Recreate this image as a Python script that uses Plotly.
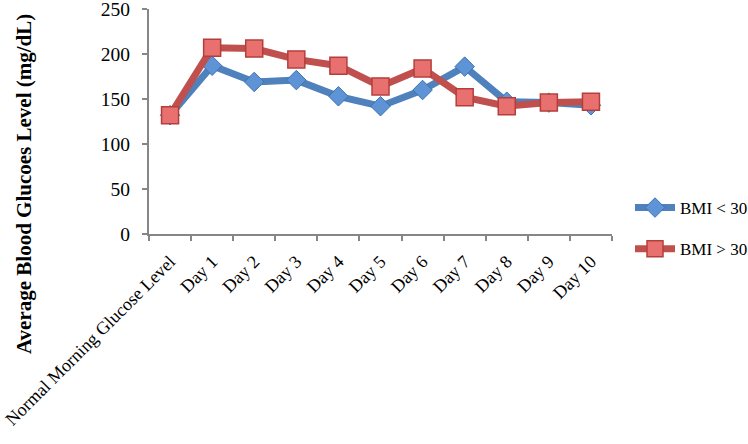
import plotly.graph_objects as go

categories = ["Normal Morning Glucose Level", "Day 1", "Day 2", "Day 3", "Day 4", "Day 5",
              "Day 6", "Day 7", "Day 8", "Day 9", "Day 10"]
bmi_under_30 = [132, 187, 169, 171, 153, 142, 160, 186, 147, 146, 143]
bmi_over_30 = [132, 207, 206, 194, 187, 164, 184, 152, 142, 146, 147]
y_ticks = [0, 50, 100, 150, 200, 250]
y_title = "Average Blood Glucoes Level (mg/dL)"

FONT = "Liberation Serif"
W, H = 748, 444
L, R, T, B = 149, 136, 9, 210
PW, PH = W - L - R, H - T - B

fig = go.Figure()
fig.add_trace(go.Scatter(
    x=categories, y=bmi_under_30, name="BMI < 30", mode="lines+markers",
    line=dict(color="#4F81BD", width=7),
    marker=dict(symbol="diamond", size=15, color="#5E93D6", line=dict(color="#3F72B0", width=1)),
    legendgroup="a",
))
fig.add_trace(go.Scatter(
    x=categories, y=bmi_over_30, name="BMI > 30", mode="lines+markers",
    line=dict(color="#C0504D", width=7),
    marker=dict(symbol="square", size=17, color="#E8716F", line=dict(color="#B33F3C", width=1.5)),
    legendgroup="b",
))

axis_col = "#868686"
fig.update_layout(
    width=W, height=H,
    margin=dict(l=L, r=R, t=T, b=B, autoexpand=False),
    paper_bgcolor="white", plot_bgcolor="white",
    font=dict(family=FONT, size=17, color="black"),
    showlegend=True,
    legend=dict(x=(630 - L) / PW, y=(234 - 190) / PH, xanchor="left", yanchor="top",
                font=dict(family=FONT, size=17), tracegroupgap=16, traceorder="grouped",
                bgcolor="rgba(0,0,0,0)", itemwidth=40),
    xaxis=dict(
        type="category", range=[-0.5, 10.5], tickson="boundaries",
        showline=True, linecolor=axis_col, linewidth=2,
        ticks="outside", ticklen=5, tickcolor=axis_col, tickwidth=2,
        tickangle=-45, tickfont=dict(family=FONT, size=18),
        ticklabelstandoff=8,
        showgrid=False, zeroline=False,
    ),
    yaxis=dict(
        range=[0, 250.01], tickvals=y_ticks,
        showline=True, linecolor=axis_col, linewidth=2,
        ticks="outside", ticklen=5, tickcolor=axis_col, tickwidth=2,
        tickfont=dict(family=FONT, size=19.5), ticklabeloverflow="allow",
        ticklabelstandoff=8,
        showgrid=False, zeroline=False,
    ),
    annotations=[dict(
        text="<b>" + y_title + "</b>", textangle=-90,
        xref="paper", yref="paper",
        x=(24 - L) / PW, y=(234 - 184) / PH,
        xanchor="center", yanchor="middle", showarrow=False,
        font=dict(family=FONT, size=21, color="black"),
    )],
)

fig.write_html("out.html", config={"displayModeBar": False},
               post_script="document.body.style.margin='0';")
